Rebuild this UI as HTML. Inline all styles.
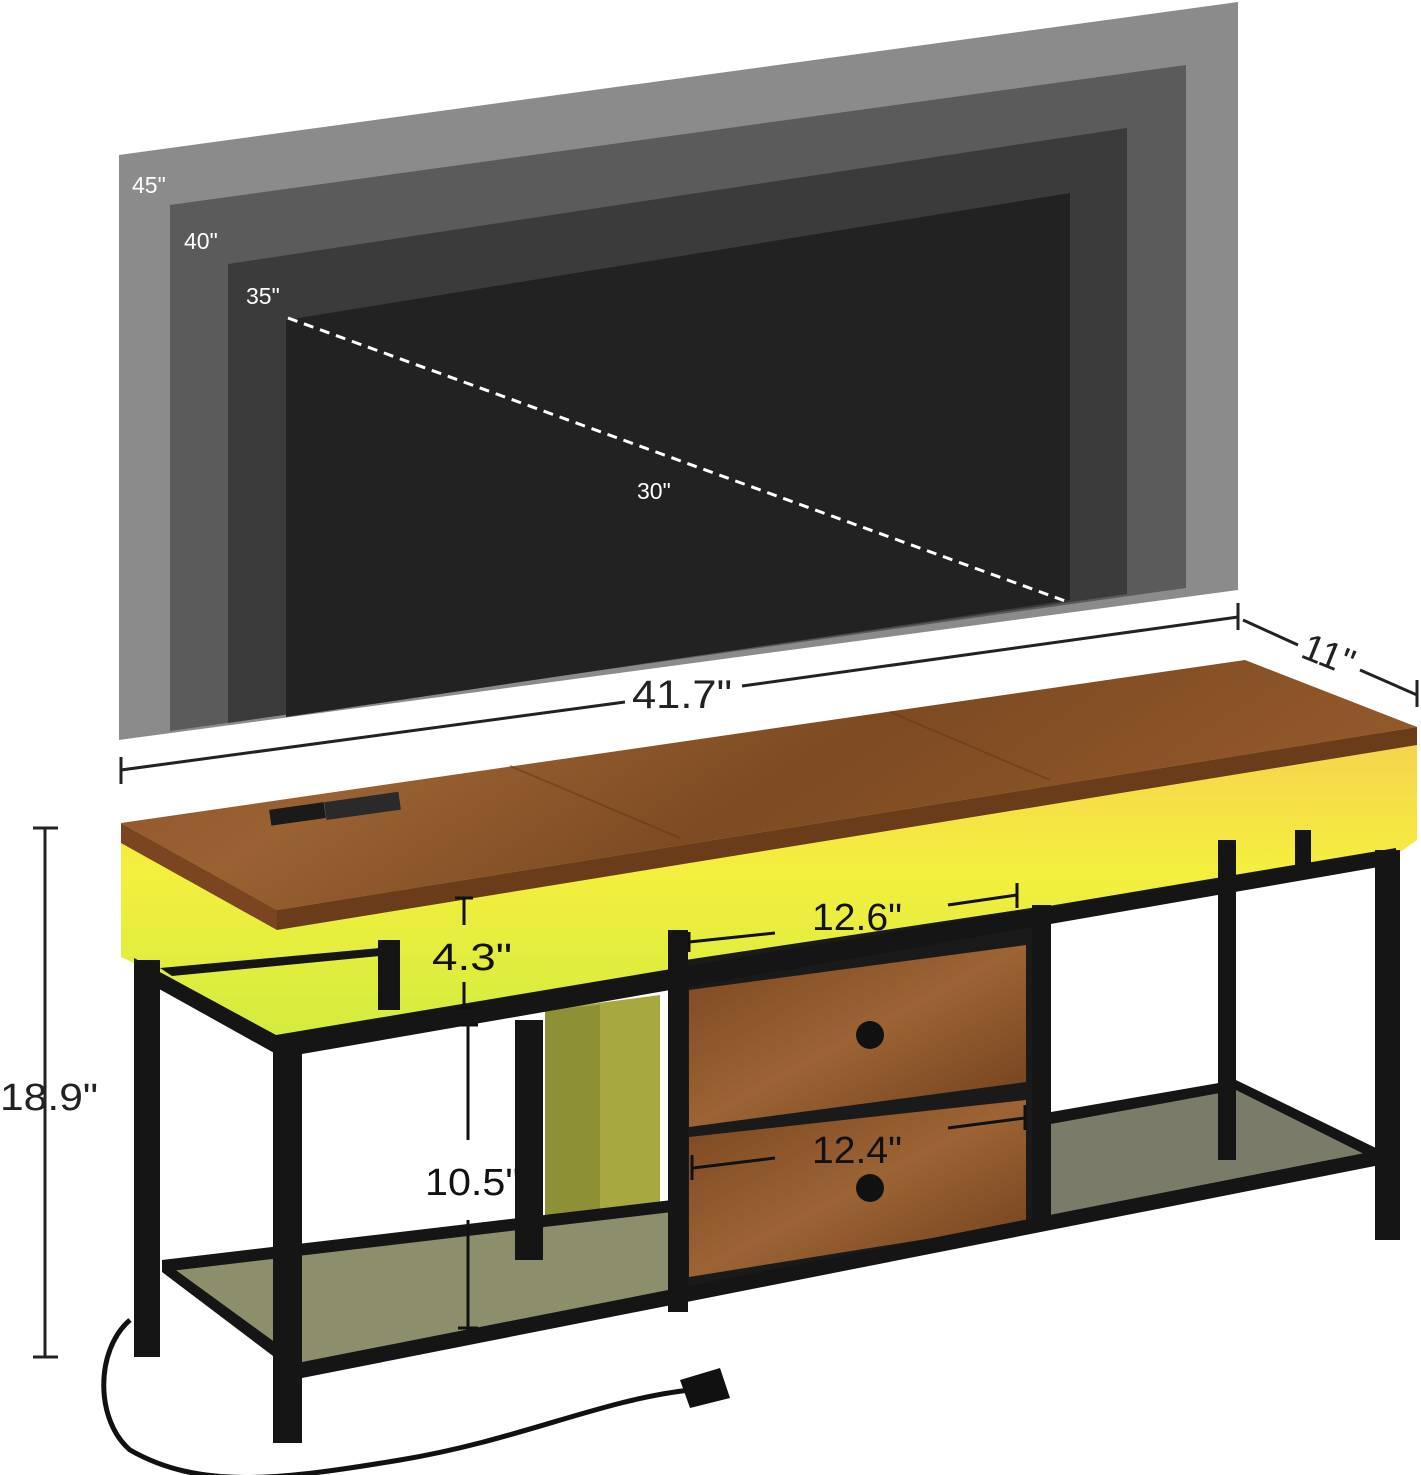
<!DOCTYPE html>
<html><head><meta charset="utf-8"><style>
html,body{margin:0;padding:0;background:#fff;}
svg{display:block;}
text{font-family:"Liberation Sans",sans-serif;}
</style></head><body>
<svg width="1421" height="1475" viewBox="0 0 1421 1475" xmlns="http://www.w3.org/2000/svg">
<defs>
<linearGradient id="wood" x1="0" y1="0" x2="1" y2="0.3">
<stop offset="0" stop-color="#8a5226"/><stop offset="0.3" stop-color="#9a6233"/><stop offset="0.6" stop-color="#7d4a22"/><stop offset="1" stop-color="#93592b"/>
</linearGradient>
<linearGradient id="glow" x1="0" y1="0" x2="0" y2="1">
<stop offset="0" stop-color="#f7d050"/><stop offset="0.45" stop-color="#f4ef3e"/><stop offset="1" stop-color="#d2ec3e"/>
</linearGradient>
<linearGradient id="dr" x1="0" y1="0" x2="1" y2="1">
<stop offset="0" stop-color="#7a4520"/><stop offset="0.5" stop-color="#9c6434"/><stop offset="1" stop-color="#6e3d1c"/>
</linearGradient>
</defs>
<!-- TV panels -->
<polygon points="119,155 1238,2 1238,590 119,740" fill="#8b8b8b"/>
<polygon points="170,205 1186,65 1186,588 170,731" fill="#5b5b5b"/>
<polygon points="228,264 1127,128 1127,594 228,723" fill="#3b3b3b"/>
<polygon points="286,320 1070,193 1070,600 286,717" fill="#222"/>
<line x1="288" y1="318" x2="1068" y2="602" stroke="#fff" stroke-width="3" stroke-dasharray="10,7"/>
<text x="132" y="193" font-size="23" fill="#fff">45"</text>
<text x="184" y="249" font-size="23" fill="#fff">40"</text>
<text x="246" y="304" font-size="23" fill="#fff">35"</text>
<text x="637" y="499" font-size="23" fill="#fff">30"</text>
<!-- dimension lines -->
<g stroke="#222" stroke-width="3" fill="none">
<line x1="121" y1="770" x2="625" y2="702"/>
<line x1="742" y1="686" x2="1238" y2="617"/>
<line x1="121" y1="757" x2="121" y2="784"/>
<line x1="1238" y1="603" x2="1238" y2="630"/>
<line x1="1243" y1="620" x2="1298" y2="645"/>
<line x1="1360" y1="670" x2="1417" y2="695"/>
<line x1="1417" y1="680" x2="1417" y2="707"/>
<line x1="45" y1="828" x2="45" y2="1357"/>
<line x1="33" y1="828" x2="58" y2="828"/>
<line x1="33" y1="1357" x2="58" y2="1357"/>
</g>
<text x="632" y="708" font-size="40" fill="#222" textLength="100" lengthAdjust="spacingAndGlyphs">41.7"</text>
<text x="1302" y="668" font-size="38" fill="#222" transform="rotate(22 1330 655)">11"</text>
<text x="0" y="1110" font-size="38" fill="#222" textLength="98" lengthAdjust="spacingAndGlyphs">18.9"</text>
<!-- glow region -->
<polygon points="121,840 1417,730 1417,840 1396,855 276,1040 134,963 121,957" fill="url(#glow)"/>
<!-- left storage bin -->
<polygon points="545,1010 660,995 660,1300 545,1260" fill="#a7a840"/>
<polygon points="545,1010 600,1005 600,1280 545,1260" fill="#8e9036"/>
<!-- bottom shelves mesh -->
<polygon points="167,1263 672,1205 672,1290 302,1370 240,1330" fill="#8d8e6c"/>
<polygon points="1051,1120 1236,1083 1380,1160 1051,1215" fill="#7b7b69"/>
<!-- drawer box -->
<polygon points="672,962 1051,905 1051,1225 672,1300" fill="#1a1a1a"/>
<polygon points="689,990 1026,945 1026,1082 689,1127" fill="url(#dr)"/>
<polygon points="689,1137 1026,1100 1026,1223 689,1277" fill="url(#dr)"/>
<circle cx="870" cy="1035" r="14" fill="#111"/>
<circle cx="870" cy="1188" r="14" fill="#111"/>
<!-- frame -->
<g fill="#151515">
<rect x="134" y="960" width="26" height="397"/>
<rect x="273" y="1035" width="29" height="408"/>
<rect x="668" y="930" width="20" height="382"/>
<rect x="1032" y="905" width="19" height="320"/>
<rect x="1375" y="850" width="25" height="390"/>
<rect x="1218" y="840" width="18" height="320"/>
<rect x="1295" y="830" width="16" height="40"/>
<polygon points="276,1035 1396,848 1396,864 302,1054 276,1054"/>
<polygon points="134,958 276,1035 276,1054 134,975"/>
<polygon points="162,1260 672,1200 672,1212 162,1272"/>
<polygon points="302,1362 1380,1150 1380,1165 302,1378"/>
<polygon points="162,1260 302,1362 302,1378 162,1272"/>
<polygon points="1051,1112 1236,1080 1236,1090 1051,1124"/>
<polygon points="1236,1080 1380,1150 1380,1162 1236,1090"/>
<rect x="515" y="1020" width="28" height="240"/>
<polygon points="160,968 380,948 380,956 172,976"/>
<rect x="378" y="940" width="22" height="70"/>
</g>
<!-- wood top -->
<polygon points="121,823 1245,660 1417,727 277,910" fill="url(#wood)"/>
<polygon points="277,910 1417,727 1417,745 277,930" fill="#6b3c1a"/>
<polygon points="121,823 277,910 277,930 121,843" fill="#7a4520"/>
<g stroke="#6a3a18" stroke-width="2" opacity="0.6">
<line x1="510" y1="766" x2="680" y2="838"/>
<line x1="890" y1="712" x2="1050" y2="780"/>
</g>
<rect x="270" y="806" width="55" height="16" fill="#1a1a1a" transform="rotate(-8 297 814)"/>
<rect x="325" y="797" width="75" height="18" fill="#2a2a2a" transform="rotate(-8 362 806)"/>
<!-- cord -->
<path d="M130,1320 C95,1350 95,1420 130,1450 C200,1490 280,1480 400,1460 C520,1440 600,1400 690,1390" stroke="#111" stroke-width="5" fill="none"/>
<polygon points="680,1380 720,1368 730,1398 690,1408" fill="#111"/>
<!-- internal dims -->
<g stroke="#111" stroke-width="3">
<line x1="464" y1="898" x2="464" y2="925"/><line x1="455" y1="898" x2="473" y2="898"/>
<line x1="464" y1="982" x2="464" y2="1008"/><line x1="455" y1="1008" x2="473" y2="1008"/>
<line x1="468" y1="1025" x2="468" y2="1140"/><line x1="458" y1="1025" x2="478" y2="1025"/>
<line x1="468" y1="1220" x2="468" y2="1328"/><line x1="458" y1="1328" x2="478" y2="1328"/>
<line x1="689" y1="942" x2="775" y2="933"/><line x1="689" y1="932" x2="689" y2="952"/>
<line x1="948" y1="905" x2="1017" y2="895"/><line x1="1017" y1="883" x2="1017" y2="908"/>
<line x1="693" y1="1168" x2="775" y2="1158"/><line x1="692" y1="1155" x2="692" y2="1180"/>
<line x1="948" y1="1128" x2="1025" y2="1118"/><line x1="1025" y1="1105" x2="1025" y2="1130"/>
</g>
<text x="432" y="970" font-size="38" fill="#111" textLength="80" lengthAdjust="spacingAndGlyphs">4.3"</text>
<text x="812" y="930" font-size="38" fill="#111" textLength="90" lengthAdjust="spacingAndGlyphs">12.6"</text>
<text x="812" y="1163" font-size="38" fill="#111" textLength="90" lengthAdjust="spacingAndGlyphs">12.4"</text>
<text x="425" y="1195" font-size="38" fill="#111" textLength="95" lengthAdjust="spacingAndGlyphs">10.5"</text>
</svg>
</body></html>
